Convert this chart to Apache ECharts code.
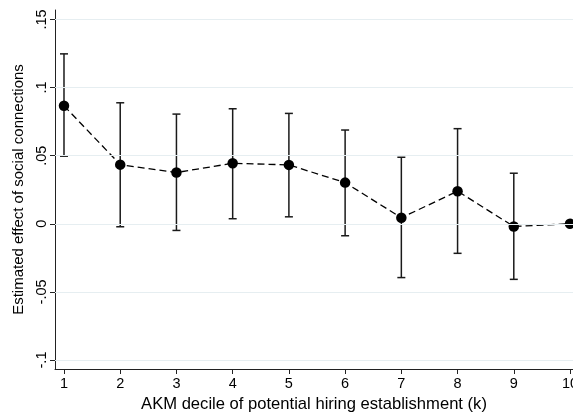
<!DOCTYPE html>
<html>
<head>
<meta charset="utf-8">
<script src="https://cdn.jsdelivr.net/npm/echarts@6/dist/echarts.min.js"></script>
<style>html,body{margin:0;padding:0;background:#fff;overflow:hidden}#c{width:573px;height:417px}</style>
</head>
<body>
<div id="c"></div>
<script>
const deciles = [1, 2, 3, 4, 5, 6, 7, 8, 9, 10];
const estimates = [0.0866, 0.0434, 0.0376, 0.0444, 0.0432, 0.0302, 0.0044, 0.0239, -0.0020, 0.0];
const ciLow = [0.0496, -0.0022, -0.0049, 0.0037, 0.0051, -0.0088, -0.0395, -0.0217, -0.0408, null];
const ciHigh = [0.1247, 0.0888, 0.0805, 0.0844, 0.0810, 0.0688, 0.0488, 0.0698, 0.0371, null];
const yTicks = [-0.1, -0.05, 0, 0.05, 0.1, 0.15];
const yTickLabels = ['-.1', '-.05', '0', '.05', '.1', '.15'];

const chart = echarts.init(document.getElementById('c'), null, {renderer: 'canvas'});
const font = 'Liberation Sans, Arial, sans-serif';

const errData = deciles.map((d, i) => [d, ciLow[i], ciHigh[i]]).filter(r => r[1] !== null);

chart.setOption({
  animation: false,
  backgroundColor: '#fff',
  grid: {left: 55, right: 0, top: 10, bottom: 48, containLabel: false, outerBoundsMode: 'none'},
  xAxis: {
    type: 'value', min: 0.84, max: 10.053,
    name: 'AKM decile of potential hiring establishment (k)',
    nameLocation: 'middle', nameGap: 24,
    nameTextStyle: {fontFamily: font, fontSize: 16.6, color: '#000'},
    axisLine: {show: true, onZero: false, lineStyle: {color: '#222', width: 1}},
    axisTick: {show: true, length: 5, lineStyle: {color: '#222'}, customValues: deciles},
    axisLabel: {fontFamily: font, fontSize: 14.5, color: '#000', margin: 7, customValues: deciles,
      hideOverlap: false, showMaxLabel: true, formatter: v => String(v)},
    splitLine: {show: false}
  },
  yAxis: {
    type: 'value', min: -0.1066, max: 0.1569,
    name: 'Estimated effect of social connections',
    nameLocation: 'middle', nameGap: 20, nameRotate: 90,
    nameTextStyle: {fontFamily: font, fontSize: 15, color: '#000'},
    axisLine: {show: true, onZero: false, lineStyle: {color: '#222', width: 1}},
    axisTick: {show: true, length: 5, lineStyle: {color: '#222'}, customValues: yTicks},
    axisLabel: {fontFamily: font, fontSize: 14.5, color: '#000', margin: 6, rotate: 90,
      customValues: yTicks,
      formatter: v => { const i = yTicks.findIndex(t => Math.abs(t - v) < 1e-6); return i >= 0 ? yTickLabels[i] : ''; }},
    splitLine: {show: false}
  },
  series: [
    {
      type: 'line', data: [], silent: true,
      markLine: {
        silent: true, symbol: 'none', label: {show: false},
        lineStyle: {color: '#e6eef1', width: 1, type: 'solid'},
        data: yTicks.map(v => ({yAxis: v}))
      }
    },
    {
      type: 'custom',
      data: errData,
      z: 3,
      renderItem: (params, api) => {
        const x = api.value(0);
        const lo = api.coord([x, api.value(1)]);
        const hi = api.coord([x, api.value(2)]);
        const w = 4;
        const style = {stroke: '#1a1a1a', lineWidth: 1.5};
        return {
          type: 'group',
          children: [
            {type: 'line', shape: {x1: lo[0], y1: lo[1], x2: hi[0], y2: hi[1]}, style},
            {type: 'line', shape: {x1: lo[0] - w, y1: lo[1], x2: lo[0] + w, y2: lo[1]}, style},
            {type: 'line', shape: {x1: hi[0] - w, y1: hi[1], x2: hi[0] + w, y2: hi[1]}, style}
          ]
        };
      }
    },
    {
      type: 'line',
      data: deciles.map((d, i) => [d, estimates[i]]),
      z: 4,
      symbol: 'circle', symbolSize: 10.5,
      itemStyle: {color: '#000'},
      lineStyle: {color: '#000', width: 1.3, type: [7, 4]}
    }
  ]
});
</script>
</body>
</html>
